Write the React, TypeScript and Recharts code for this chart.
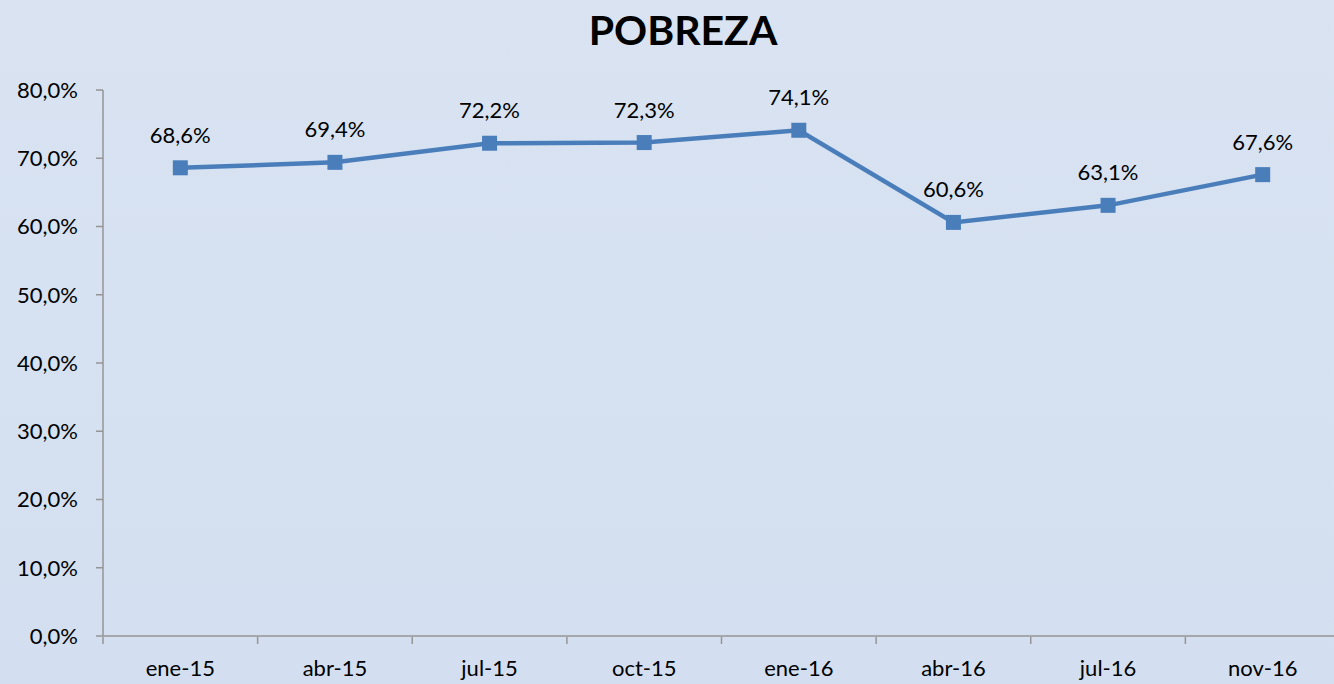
import React from "react";
import { LineChart, Line, XAxis, YAxis, LabelList } from "recharts";

const categories = ["ene-15", "abr-15", "jul-15", "oct-15", "ene-16", "abr-16", "jul-16", "nov-16"];
const pobreza = [68.6, 69.4, 72.2, 72.3, 74.1, 60.6, 63.1, 67.6];
const yTicks = [0, 10, 20, 30, 40, 50, 60, 70, 80];

const data = categories.map((c, i) => ({ name: c, value: pobreza[i] }));

const FONT = "Lato, 'Open Sans', sans-serif";
const AXIS = "#959595";
const BLUE = "#4a7ebb";

const fmt = (v: number) => v.toFixed(1).replace(".", ",") + "%";

const XTick = (props: any) => {
  const { x, y, payload } = props;
  const off = payload && payload.offset ? payload.offset : 0;
  return (
    <g>
      <line x1={x - off} y1={y - 7} x2={x - off} y2={y} stroke={AXIS} strokeWidth={1.5} />
      <text x={x} y={y + 32} textAnchor="middle" fontFamily={FONT} fontSize={22} fill="#000">
        {payload.value}
      </text>
    </g>
  );
};

const SquareDot = (props: any) => {
  const { cx, cy } = props;
  if (cx == null || cy == null) return null;
  return <rect x={cx - 7.5} y={cy - 7.5} width={15} height={15} fill={BLUE} />;
};

export default function App() {
  return (
    <div
      style={{
        position: "absolute",
        left: 0,
        top: 0,
        width: 1334,
        height: 684,
        overflow: "hidden",
        background: "linear-gradient(180deg, #d9e3f2 0%, #d3dff0 100%)",
      }}
    >
      <div
        style={{
          position: "absolute",
          left: 0,
          top: 4,
          width: 1366,
          textAlign: "center",
          fontFamily: FONT,
          fontWeight: 700,
          fontSize: 41,
          lineHeight: "52px",
          color: "#000",
        }}
      >
        POBREZA
      </div>
      <div style={{ position: "absolute", left: 0, top: 0 }}>
        <LineChart
          width={1345}
          height={684}
          data={data}
          margin={{ top: 90, right: 5, bottom: 0, left: 0 }}
        >
          <XAxis
            dataKey="name"
            scale="band"
            height={48}
            axisLine={{ stroke: AXIS, strokeWidth: 1.5 }}
            tickLine={false}
            tick={<XTick />}
            interval={0}
          />
          <YAxis
            width={103}
            domain={[0, 80]}
            ticks={yTicks}
            tickFormatter={fmt}
            axisLine={{ stroke: AXIS, strokeWidth: 1.5 }}
            tickLine={{ stroke: AXIS, strokeWidth: 1.5 }}
            tickSize={7}
            tickMargin={18}
            tick={{ fontFamily: FONT, fontSize: 22, fill: "#000" }}
            interval={0}
          />
          <Line
            dataKey="value"
            stroke={BLUE}
            strokeWidth={4.5}
            dot={<SquareDot />}
            activeDot={false}
            isAnimationActive={false}
          >
            <LabelList
              dataKey="value"
              position="top"
              offset={25}
              formatter={(v: any) => fmt(Number(v))}
              style={{ fontFamily: FONT, fontSize: 22, fill: "#000" }}
            />
          </Line>
        </LineChart>
      </div>
    </div>
  );
}
